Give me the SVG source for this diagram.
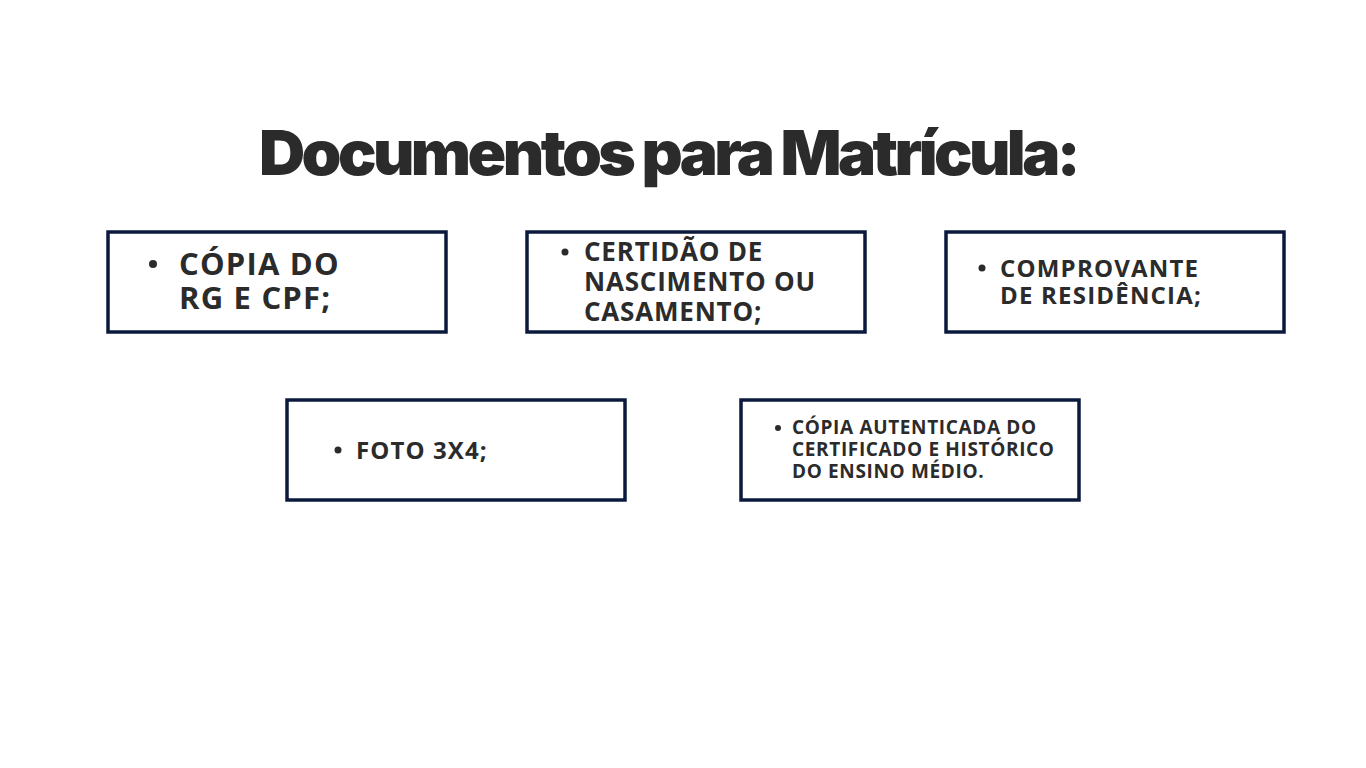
<svg xmlns="http://www.w3.org/2000/svg" width="1366" height="768" viewBox="0 0 1366 768">
<style>
.box{fill:#fff;stroke:#0b1a3c;stroke-width:3.5}
.t{font-family:"Open Sans","Noto Sans",sans-serif;font-weight:700;fill:#2b2b2b}
.title{font-family:Inter,"Open Sans",sans-serif;font-weight:900;fill:#2b2b2b;font-size:62px;letter-spacing:-3.5px}
</style>
<rect width="1366" height="768" fill="#fff"/>
<text class="title" x="668" y="175" text-anchor="middle" textLength="818" lengthAdjust="spacingAndGlyphs">Documentos para Matrícula:</text>
<g id="n1"><rect class="box" x="108" y="232" width="338" height="100"/>
<circle cx="153" cy="264" r="4" fill="#2b2b2b"/>
<text class="t" font-size="31" letter-spacing="1.2" x="179" y="275">CÓPIA DO</text><text class="t" font-size="31" letter-spacing="1.2" x="179" y="309">RG E CPF;</text></g>
<g id="n2"><rect class="box" x="527" y="232" width="338" height="100"/>
<circle cx="565" cy="252" r="3.5" fill="#2b2b2b"/>
<text class="t" font-size="26" letter-spacing="0.8" x="584" y="261">CERTIDÃO DE</text><text class="t" font-size="26" letter-spacing="0.8" x="584" y="291">NASCIMENTO OU</text><text class="t" font-size="26" letter-spacing="0.8" x="584" y="321">CASAMENTO;</text></g>
<g id="n3"><rect class="box" x="946" y="232" width="338" height="100"/>
<circle cx="982" cy="268" r="3.5" fill="#2b2b2b"/>
<text class="t" font-size="24" letter-spacing="1.2" x="1000" y="277">COMPROVANTE</text><text class="t" font-size="24" letter-spacing="1.2" x="1000" y="304">DE RESIDÊNCIA;</text></g>
<g id="n4"><rect class="box" x="287" y="400" width="338" height="100"/>
<circle cx="338" cy="450" r="3.5" fill="#2b2b2b"/>
<text class="t" font-size="24" letter-spacing="1.1" x="356" y="459">FOTO 3X4;</text></g>
<g id="n5"><rect class="box" x="741" y="400" width="338" height="100"/>
<circle cx="778" cy="428" r="3" fill="#2b2b2b"/>
<text class="t" font-size="19" letter-spacing="0.65" x="792" y="434">CÓPIA AUTENTICADA DO</text><text class="t" font-size="19" letter-spacing="0.65" x="792" y="456">CERTIFICADO E HISTÓRICO</text><text class="t" font-size="19" letter-spacing="0.65" x="792" y="478">DO ENSINO MÉDIO.</text></g>
<g id="connectors"/>
</svg>
